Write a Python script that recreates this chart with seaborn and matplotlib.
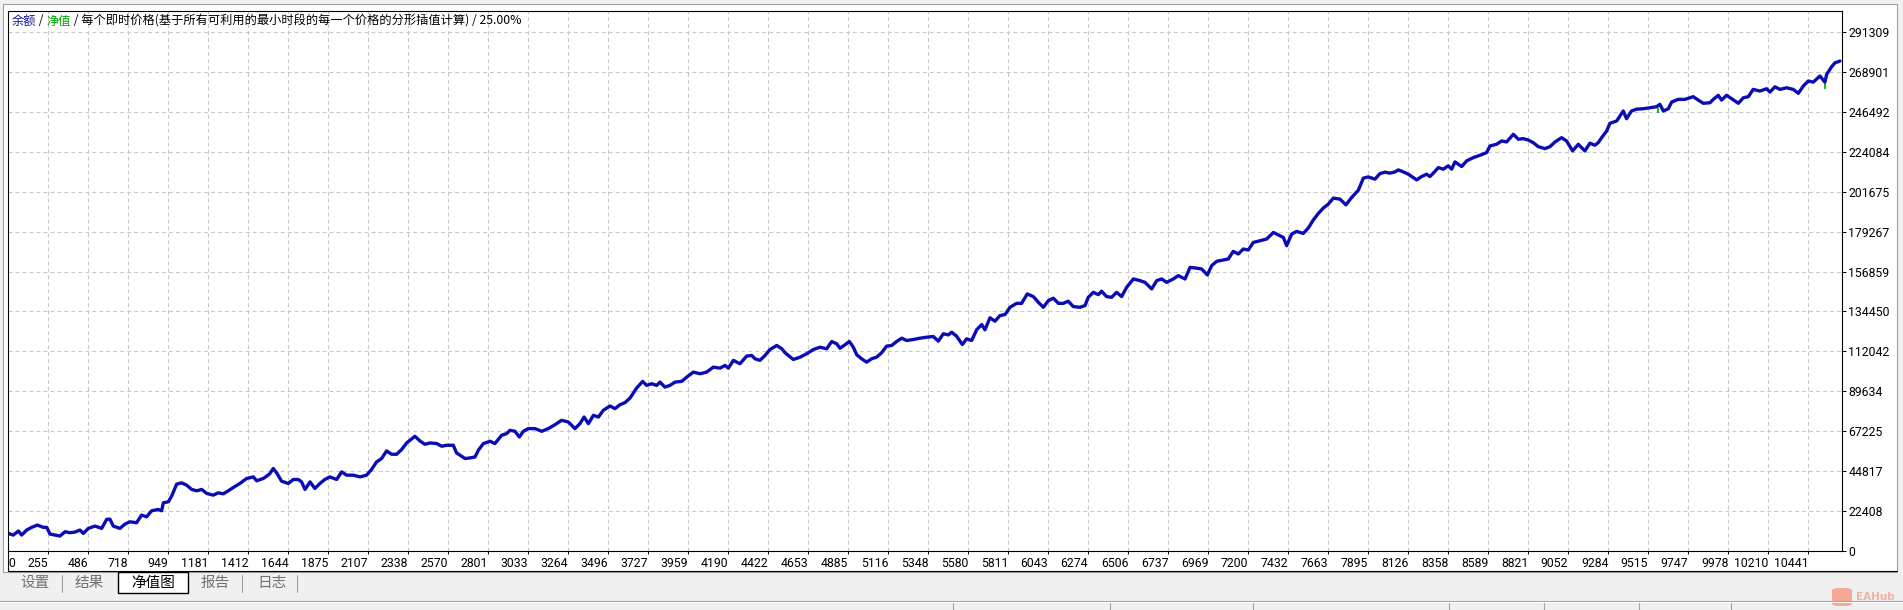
import matplotlib
matplotlib.use("Agg")
import matplotlib.pyplot as plt
import seaborn as sns
import pandas as pd
from matplotlib.patches import Rectangle, FancyBboxPatch
from matplotlib.lines import Line2D

# balance curve (bar number, balance)
bar_no = [
    22, 53, 82, 101, 130, 159, 192, 226, 246, 265,
    294, 323, 352, 381, 410, 438, 458, 487, 525, 564,
    593, 612, 631, 670, 699, 728, 766, 795, 824, 853,
    892, 911, 921, 950, 969, 998, 1027, 1056, 1085, 1114,
    1143, 1172, 1210, 1239, 1268, 1297, 1326, 1364, 1403, 1442,
    1461, 1499, 1519, 1538, 1557, 1577, 1605, 1644, 1673, 1702,
    1721, 1741, 1770, 1798, 1827, 1856, 1885, 1924, 1953, 1982,
    2020, 2059, 2097, 2126, 2155, 2184, 2213, 2242, 2271, 2300,
    2329, 2377, 2406, 2435, 2464, 2503, 2532, 2560, 2599, 2618,
    2667, 2696, 2725, 2744, 2773, 2812, 2840, 2879, 2908, 2927,
    2956, 2981, 3005, 3033, 3072, 3111, 3149, 3188, 3226, 3265,
    3303, 3332, 3356, 3381, 3410, 3439, 3467, 3506, 3535, 3564,
    3593, 3622, 3660, 3695, 3718, 3747, 3776, 3795, 3824, 3853,
    3882, 3921, 3950, 3988, 4027, 4065, 4104, 4143, 4172, 4191,
    4220, 4258, 4297, 4326, 4345, 4374, 4403, 4432, 4471, 4500,
    4519, 4538, 4567, 4606, 4644, 4683, 4721, 4760, 4789, 4818,
    4837, 4866, 4891, 4914, 4934, 4962, 4991, 5020, 5049, 5078,
    5107, 5136, 5165, 5194, 5223, 5261, 5300,
    5339, 5377, 5406, 5435, 5464, 5483, 5512, 5545, 5570, 5599,
    5628, 5657, 5676, 5705, 5734, 5763, 5792, 5821, 5859, 5888,
    5921, 5956, 5985, 6014, 6043, 6072, 6101, 6129, 6158, 6187,
    6226, 6255, 6274, 6303, 6332, 6351, 6380, 6409, 6438, 6467,
    6496, 6535, 6573, 6602, 6641, 6670, 6699, 6727, 6766, 6795,
    6834, 6863, 6891, 6930, 6963, 6988, 7017, 7055, 7084, 7113,
    7142, 7171, 7200, 7229, 7268, 7306, 7345, 7383, 7403, 7422,
    7451, 7480, 7518, 7547, 7576, 7605, 7634, 7663, 7692, 7731,
    7765, 7798, 7837, 7866, 7894, 7933, 7962, 7991,
    8020, 8049, 8068, 8097, 8126, 8155, 8174, 8203, 8232, 8251,
    8271, 8300, 8328, 8357, 8377, 8396, 8435, 8464, 8502, 8541,
    8579, 8599, 8637, 8666, 8695, 8734, 8763, 8791, 8820, 8849,
    8878, 8917, 8946, 8975, 9013, 9042, 9077, 9110, 9148, 9177,
    9206, 9225, 9245, 9274, 9293, 9332, 9351, 9370, 9389, 9418,
    9447, 9486, 9525, 9563, 9582, 9602, 9631, 9650, 9688, 9727,
    9775, 9804, 9833, 9872, 9891, 9920, 9939, 9968, 9997, 10036,
    10065, 10094, 10122, 10161, 10200, 10219, 10248, 10277, 10315, 10354,
    10383, 10412, 10441, 10470, 10508, 10537, 10547, 10576, 10595, 10624,
]
balance = [
    9900, 8960, 11200, 8960, 11760, 13270, 14560, 13270, 13270, 9520,
    8960, 8400, 10810, 10250, 10640, 11760, 9900, 12700, 14000, 12700,
    17750, 17900, 14000, 12700, 15120, 16400, 15850, 20160, 19200, 22580,
    23330, 22580, 27070, 27600, 30800, 37520, 38270, 36960, 34550, 33800,
    34550, 32300, 31360, 32650, 32100, 33800, 35650, 37900, 40700, 41600,
    39400, 40700, 42000, 43500, 46300, 43850, 39200, 37900, 40150, 40150,
    38800, 34550, 38800, 35100, 37900, 40150, 41600, 40150, 44400, 42560,
    42560, 41600, 42560, 45750, 50000, 51900, 56170, 54300, 54300, 56950,
    60650, 64400, 61770, 59900, 60650, 60300, 58800, 59350, 59350, 55050,
    51900, 52250, 52800, 56560, 60300, 61600, 60300, 64960, 65900, 67760,
    67200, 64000, 67200, 68700, 68700, 67200, 68700, 70950, 73360, 72400,
    68700, 71500, 75200, 71500, 76160, 75200, 78960, 81400, 79900, 82150,
    83300, 85850, 91450, 95200, 92960, 93900, 92960, 94800, 92000, 92960,
    94800, 95200, 97600, 100400, 99500, 100400, 103200, 102650, 104160, 102650,
    107000, 105100, 109400, 109760, 107900, 107000, 109760, 113100, 115360, 113500,
    111300, 109760, 107500, 108800, 110700, 113100, 114400, 113500, 117600, 116300,
    113800, 115750, 117600, 114400, 110150, 107900, 106000, 107900, 108800, 111300,
    115000, 115360, 117600, 119450, 118160, 118700, 119450,
    120000, 120400, 117800, 121900, 121300, 122800, 120560, 115900, 119100, 118160,
    124150, 127100, 124150, 130900, 128970, 132160, 132700, 136800, 139000, 139000,
    144300, 142800, 139600, 136800, 140560, 141900, 139000, 139000, 140200, 137200,
    136800, 137760, 142400, 145200, 143900, 145800, 142800, 142400, 145200, 142800,
    148000, 152700, 151760, 150800, 147100, 151760, 152700, 150800, 152700, 154560,
    152700, 159200, 158900, 158300, 154950, 160160, 162600, 163350, 163900, 168200,
    166700, 169500, 168950, 173200, 174160, 175100, 178800, 176960, 176000, 171360,
    177900, 179400, 178250, 181270, 185750, 189450, 192470, 194700, 198070, 197500,
    194300, 198400, 202550, 209270, 210000, 208700, 211850, 212650,
    212100, 212800, 213900, 212800, 211500, 209600, 208300, 210170, 211500, 210170,
    212100, 215200, 214300, 216200, 214300, 218400, 215800, 219000, 220800, 222150,
    223600, 227360, 228300, 230160, 229600, 233900, 231100, 231450, 230700, 229200,
    226960, 225850, 226960, 229600, 232000, 230160, 224560, 228300, 224560, 228900,
    227750, 229200, 232000, 235760, 240060, 241360, 244160, 247000, 242650, 247000,
    248000, 248250, 248800, 249400, 250700, 247000, 248250, 252000, 253500, 253500,
    255000, 253100, 251300, 251600, 253500, 255750, 253100, 255750, 253900, 251300,
    254400, 255000, 259100, 258160, 259450, 257600, 260550, 259100, 260000, 259100,
    256900, 260960, 263800, 263200, 266600, 263200, 267500, 271800, 274000, 275000,
]

# equity dips that show in green under the balance line
dip_bar = [9573, 10537]
dip_top = [248800, 263200]
dip_low = [246000, 259500]

x_labels = [0, 255, 486, 718, 949, 1181, 1412, 1644, 1875, 2107, 2338, 2570,
            2801, 3033, 3264, 3496, 3727, 3959, 4190, 4422, 4653, 4885, 5116,
            5348, 5580, 5811, 6043, 6274, 6506, 6737, 6969, 7200, 7432, 7663,
            7895, 8126, 8358, 8589, 8821, 9052, 9284, 9515, 9747, 9978, 10210,
            10441]
y_labels = [0, 22408, 44817, 67225, 89634, 112042, 134450, 156859, 179267,
            201675, 224084, 246492, 268901, 291309]

title_parts = [("余额", "#1414a0"), (" / ", "black"), ("净值", "#00a000"),
               (" / 每个即时价格(基于所有可利用的最小时段的每一个价格的分形插值计算) / 25.00%", "black")]
tabs = ["设置", "结果", "净值图", "报告", "日志"]

BLUE = "#0c0cb4"
GREEN = "#00b400"
W, H = 1903, 610


def fx(x):
    return x / W


def fy(y):
    return 1 - y / H


sns.set_theme(style="white")
plt.rcParams['font.family'] = ['Roboto', 'Noto Sans CJK SC', 'DejaVu Sans']

fig = plt.figure(figsize=(W / 100, H / 100), dpi=100)
fig.patch.set_facecolor("#f0f0f0")

# white panel of the tester window
fig.add_artist(Rectangle((fx(3), fy(572)), fx(1897) - fx(3), fy(4) - fy(572),
                         transform=fig.transFigure, facecolor="white",
                         edgecolor="#a0a0a0", linewidth=0.8, zorder=0))

ax = fig.add_axes([fx(8), fy(551), fx(1842) - fx(8), fy(11) - fy(551)])
ax.set_facecolor("white")

df = pd.DataFrame({"bar": bar_no, "balance": balance})
ax.vlines(dip_bar, dip_low, dip_top, color=GREEN, linewidth=1.3, zorder=1.9)
sns.lineplot(data=df, x="bar", y="balance", ax=ax, color=BLUE, linewidth=2.4,
             estimator=None, sort=False, legend=False, zorder=2)

x_left, x_right = 22, 10636
ax.set_xlim(x_left, x_right)
ax.set_ylim(0, 303100)
ax.set_xlabel("")
ax.set_ylabel("")

ax.set_xticks([max(v, x_left) for v in x_labels])
xt = ax.set_xticklabels([str(v) for v in x_labels])
for i, t in enumerate(xt):
    t.set_ha("left" if i == 0 else "right")
ax.yaxis.tick_right()
ax.set_yticks(y_labels)
ax.set_yticklabels([str(v) for v in y_labels])

ax.tick_params(axis="x", bottom=True, length=2, width=0.7, pad=2.5,
               labelsize=8.8, colors="black")
ax.tick_params(axis="y", right=True, left=False, length=3, width=0.7, pad=1.5,
               labelsize=8.8, colors="black")

ax.set_axisbelow(True)
ax.grid(True, color="#c8c8c8", linestyle=(0, (3.8, 2.9)), linewidth=0.75)
for s in ax.spines.values():
    s.set_color("black")
    s.set_linewidth(0.8)

# frame lines round the tick label strip
fig.add_artist(Line2D([fx(8), fx(8)], [fy(551), fy(571)], color="black", lw=0.8))
fig.add_artist(Line2D([fx(8), fx(1897)], [fy(571), fy(571)], color="black", lw=0.8))

# title made of coloured pieces
t = fig.text(fx(12), fy(21), title_parts[0][0], color=title_parts[0][1],
             fontsize=8.8, va="center", ha="left", family=["Noto Sans CJK SC"])
for piece, col in title_parts[1:]:
    t = ax.annotate(piece, xy=(1, 0), xycoords=t, va="bottom", ha="left",
                    color=col, fontsize=8.8, family=["Noto Sans CJK SC"])

# tab strip
tab_x = [35, 89, 153, 215, 272]
fig.add_artist(Rectangle((fx(118), fy(593)), fx(188) - fx(118), fy(572) - fy(593),
                         transform=fig.transFigure, facecolor="white",
                         edgecolor="black", linewidth=1.0, zorder=1))
for name, x in zip(tabs, tab_x):
    fig.text(fx(x), fy(583), name, ha="center", va="center", fontsize=10.5,
             family=["Noto Sans CJK SC"],
             color="black" if name == "净值图" else "#707070", zorder=2)
for x in [62, 242, 297]:
    fig.add_artist(Line2D([fx(x), fx(x)], [fy(575), fy(592)], color="#a0a0a0", lw=0.8))

# status bar line
fig.add_artist(Line2D([0, 1], [fy(601), fy(601)], color="#a0a0a0", lw=0.8))
fig.add_artist(Line2D([0, 1], [fy(602), fy(602)], color="white", lw=0.8))
for x in [953, 1110, 1253, 1449, 1544, 1639, 1731]:
    fig.add_artist(Line2D([fx(x), fx(x)], [fy(603), fy(610)], color="#a0a0a0", lw=0.8))

# watermark
fig.add_artist(FancyBboxPatch((fx(1832), fy(606)), fx(1852) - fx(1832), fy(588) - fy(606),
                              boxstyle="round,pad=0,rounding_size=0.004",
                              transform=fig.transFigure,
                              facecolor="#f7a08a", edgecolor="none", alpha=0.9))
fig.text(fx(1856), fy(597), "EAHub", ha="left", va="center", fontsize=7.5,
         fontweight="bold", family=["DejaVu Sans"], color="#f4b09c")

fig.savefig("out.png", dpi=100, facecolor=fig.get_facecolor())
